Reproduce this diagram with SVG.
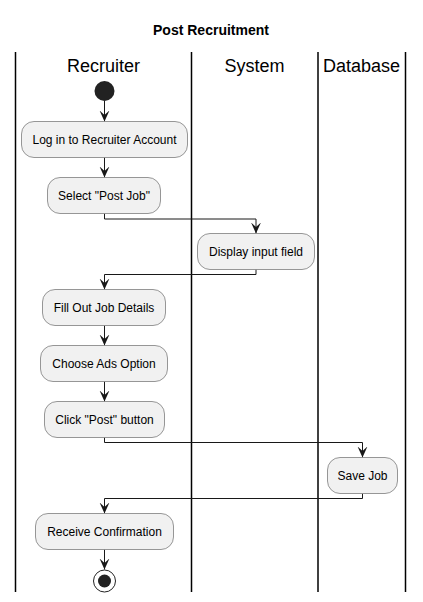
<svg xmlns="http://www.w3.org/2000/svg" width="423" height="602" viewBox="0 0 423 602">
<defs>
<style>
.lane{stroke:#000;stroke-width:1.5;fill:none}
.act{fill:#F1F1F1;stroke:#767676;stroke-width:0.75}
.t{font-family:"Liberation Sans",Arial,sans-serif;font-size:12px;fill:#000;text-anchor:middle}
.h{font-family:"Liberation Sans",Arial,sans-serif;font-size:18px;fill:#000;text-anchor:middle}
.title{font-family:"Liberation Sans",Arial,sans-serif;font-size:14px;font-weight:bold;fill:#000;text-anchor:middle}
.c{stroke:#181818;stroke-width:1;fill:none}
</style>
<marker id="ah" viewBox="0 0 10 10" refX="10" refY="5" markerWidth="11" markerHeight="11" markerUnits="userSpaceOnUse" orient="auto">
<path d="M0,0.5 L10,5 L0,9.5 L4,5 Z" fill="#181818"/>
</marker>
</defs>
<rect width="423" height="602" fill="#FFFFFF"/>
<text class="title" x="211" y="35">Post Recruitment</text>
<g id="lanes">
<line class="lane" x1="15.5" y1="52" x2="15.5" y2="592"/>
<line class="lane" x1="191.5" y1="52" x2="191.5" y2="592"/>
<line class="lane" x1="318" y1="52" x2="318" y2="592"/>
<line class="lane" x1="405.5" y1="52" x2="405.5" y2="592"/>
<text class="h" x="103.5" y="72">Recruiter</text>
<text class="h" x="254.5" y="72">System</text>
<text class="h" x="361.5" y="72">Database</text>
</g>
<g id="connectors">
<line class="c" x1="104.5" y1="101" x2="104.5" y2="121.5" marker-end="url(#ah)"/>
<line class="c" x1="104.5" y1="157.5" x2="104.5" y2="177.5" marker-end="url(#ah)"/>
<polyline class="c" points="104.5,213.5 104.5,219 256,219 256,233.5" marker-end="url(#ah)"/>
<polyline class="c" points="256,269.5 256,274.5 104.5,274.5 104.5,289.5" marker-end="url(#ah)"/>
<line class="c" x1="104.5" y1="325.5" x2="104.5" y2="345.5" marker-end="url(#ah)"/>
<line class="c" x1="104.5" y1="381.5" x2="104.5" y2="401.5" marker-end="url(#ah)"/>
<polyline class="c" points="104.5,437.5 104.5,442.5 362.5,442.5 362.5,457.5" marker-end="url(#ah)"/>
<polyline class="c" points="362.5,493.5 362.5,498.5 104.5,498.5 104.5,513.5" marker-end="url(#ah)"/>
<line class="c" x1="104.5" y1="549.5" x2="104.5" y2="569.5" marker-end="url(#ah)"/>
</g>
<g id="start"><circle cx="104.5" cy="91" r="10" fill="#222222"/></g>
<g id="n1"><rect class="act" x="21.5" y="121.5" width="166" height="36" rx="12.5"/><text class="t" x="104.5" y="144">Log in to Recruiter Account</text></g>
<g id="n2"><rect class="act" x="47.5" y="177.5" width="113" height="36" rx="12.5"/><text class="t" x="104" y="200">Select "Post Job"</text></g>
<g id="n3"><rect class="act" x="197.5" y="233.5" width="117" height="36" rx="12.5"/><text class="t" x="256" y="256">Display input field</text></g>
<g id="n4"><rect class="act" x="42.5" y="289.5" width="123" height="36" rx="12.5"/><text class="t" x="104" y="312">Fill Out Job Details</text></g>
<g id="n5"><rect class="act" x="40.5" y="345.5" width="127" height="36" rx="12.5"/><text class="t" x="104" y="368">Choose Ads Option</text></g>
<g id="n6"><rect class="act" x="44.5" y="401.5" width="120" height="36" rx="12.5"/><text class="t" x="104.5" y="424">Click "Post" button</text></g>
<g id="n7"><rect class="act" x="327.5" y="457.5" width="70" height="36" rx="12.5"/><text class="t" x="362.5" y="480">Save Job</text></g>
<g id="n8"><rect class="act" x="35.5" y="513.5" width="138" height="36" rx="12.5"/><text class="t" x="104.5" y="536">Receive Confirmation</text></g>
<g id="end"><circle cx="104.5" cy="581" r="11" fill="none" stroke="#222222" stroke-width="1"/><circle cx="104.5" cy="581" r="6.5" fill="#222222"/></g>
</svg>
